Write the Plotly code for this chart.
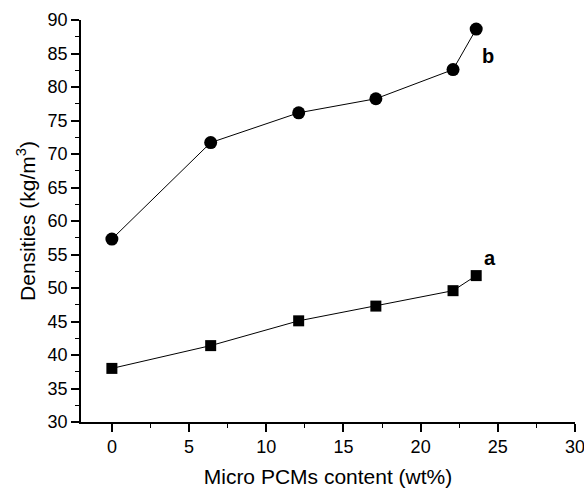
import plotly.graph_objects as go

content = [0, 6.4, 12.1, 17.1, 22.1, 23.6]
density_a = [38.0, 41.4, 45.1, 47.3, 49.6, 51.85]
density_b = [57.3, 71.7, 76.15, 78.25, 82.6, 88.65]

x_ticks = [0, 5, 10, 15, 20, 25, 30]
y_ticks = [30, 35, 40, 45, 50, 55, 60, 65, 70, 75, 80, 85, 90]

font = "Liberation Sans, Arial, sans-serif"

fig = go.Figure()
fig.add_trace(go.Scatter(
    x=content, y=density_a, mode="lines+markers", name="a",
    line=dict(color="black", width=1),
    marker=dict(symbol="square", size=11, color="black"),
))
fig.add_trace(go.Scatter(
    x=content, y=density_b, mode="lines+markers", name="b",
    line=dict(color="black", width=1),
    marker=dict(symbol="circle", size=13, color="black"),
))

fig.add_annotation(x=content[-1], y=density_a[-1], text="<b>a</b>", showarrow=False,
                   xshift=14, yshift=18, font=dict(family=font, size=20, color="black"))
fig.add_annotation(x=content[-1], y=density_b[-1], text="<b>b</b>", showarrow=False,
                   xshift=12, yshift=-27, font=dict(family=font, size=20, color="black"))

axis_common = dict(
    showline=True, linecolor="black", linewidth=1.5,
    ticks="outside", ticklen=8, tickwidth=1.5, tickcolor="black",
    showgrid=False, zeroline=False, mirror=False, automargin=False,
    ticklabeloverflow="allow",
    tickfont=dict(family=font, size=18, color="black"),
)

fig.update_xaxes(
    range=[-2, 30], tickvals=x_ticks, ticktext=[str(v) for v in x_ticks],
    minor=dict(ticks="outside", ticklen=4, tickwidth=1.2, tickcolor="black", dtick=2.5, tick0=0),
    title=dict(text="Micro PCMs content (wt%)", font=dict(family=font, size=21, color="black"), standoff=19),
    **axis_common,
)
fig.update_yaxes(
    range=[30, 90], tickvals=y_ticks, ticktext=[str(v) for v in y_ticks],
    minor=dict(ticks="outside", ticklen=4, tickwidth=1.2, tickcolor="black", dtick=2.5, tick0=30),
    title=dict(text="Densities (kg/m<sup>3</sup>)", font=dict(family=font, size=21, color="black"), standoff=6),
    **axis_common,
)

fig.update_layout(
    width=584, height=488,
    margin=dict(l=81, r=9, t=20, b=66),
    paper_bgcolor="white", plot_bgcolor="white",
    showlegend=False,
)

fig.write_html(
    "out.html",
    config={"displayModeBar": False},
    post_script="document.body.style.margin='0';document.body.style.overflow='hidden';",
)
